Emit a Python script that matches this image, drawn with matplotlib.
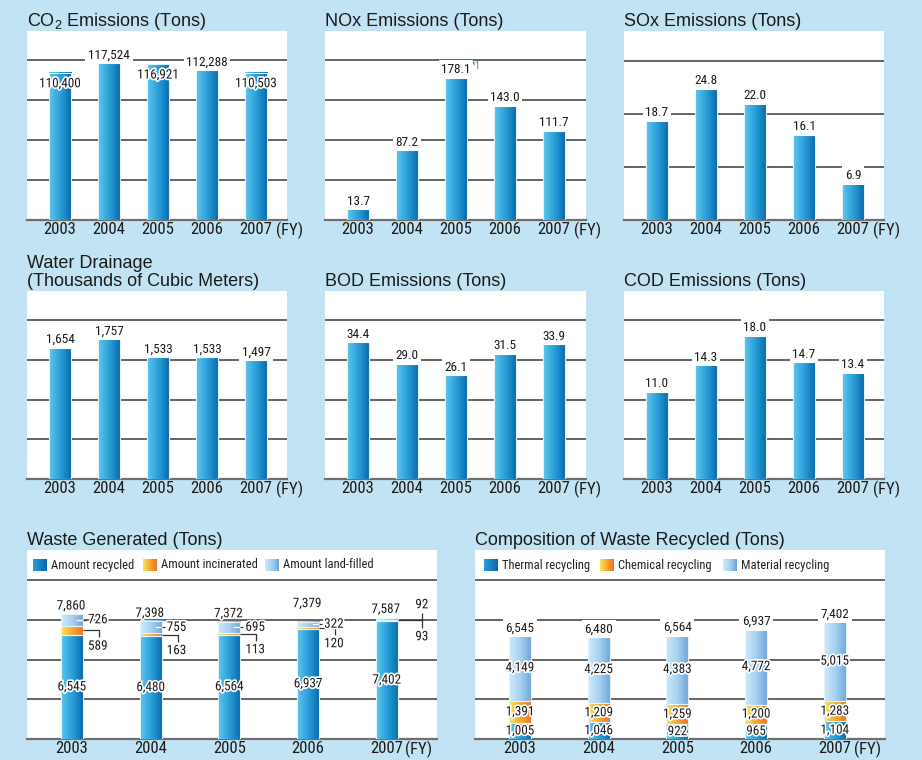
import os
import numpy as np
import matplotlib
matplotlib.use("Agg")
import matplotlib.pyplot as plt
from matplotlib import font_manager as fm
from matplotlib.colors import LinearSegmentedColormap
from matplotlib import patheffects as pe

years = ["2003", "2004", "2005", "2006", "2007"]

co2 = [110400, 117524, 116921, 112288, 110503]
nox = [13.7, 87.2, 178.1, 143.0, 111.7]
sox = [18.7, 24.8, 22.0, 16.1, 6.9]
water = [1654, 1757, 1533, 1533, 1497]
bod = [34.4, 29.0, 26.1, 31.5, 33.9]
cod = [11.0, 14.3, 18.0, 14.7, 13.4]

waste_recycled = [6545, 6480, 6564, 6937, 7402]
waste_incinerated = [589, 163, 113, 120, 93]
waste_landfilled = [726, 755, 695, 322, 92]

thermal = [1005, 1046, 922, 965, 1104]
chemical = [1391, 1209, 1259, 1200, 1283]
material = [4149, 4225, 4383, 4772, 5015]

W, H = 922, 760
BG = "#c2e3f3"
GRID = "#4a4a4a"
BLUE = ["#5cc6ef", "#2a9ed9", "#0866ab"]
ORANGE = ["#fbe55c", "#f5a833", "#ea731f"]
LIGHT = ["#cfeaf9", "#a6d1f0", "#6da4d8"]
TITLE_FONT = ["Liberation Sans", "DejaVu Sans"]

plt.rcParams["mathtext.fontset"] = "custom"
plt.rcParams["mathtext.rm"] = "Liberation Sans"
plt.rcParams["mathtext.default"] = "regular"


def find_narrow():
    # the labels use a condensed face; take whichever one is installed
    prefs = ["liberationsansnarrow-regular", "robotocondensed-regular",
             "notosans-condensed.", "opensans-condensed.", "opensans_condensed-regular",
             "dejavusanscondensed.", "notosans-semicondensed."]
    files = [f.fname for f in fm.fontManager.ttflist]
    for p in prefs:
        for fn in files:
            if p in os.path.basename(fn).lower():
                return fm.FontProperties(fname=fn), 1.0
    return fm.FontProperties(family="Liberation Sans"), 0.86


NARROW_FP, NARROW_SCALE = find_narrow()


def nf(size):
    p = NARROW_FP.copy()
    p.set_size(size * NARROW_SCALE)
    return p


GRAD = np.linspace(0, 1, 64).reshape(1, -1)
HALO = [pe.withStroke(linewidth=2.4, foreground="white")]

fig = plt.figure(figsize=(W / 100, H / 100), dpi=100, facecolor=BG)


def panel(left, top, right, bottom, title):
    ax = fig.add_axes([left / W, 1 - bottom / H, (right - left) / W, (bottom - top) / H])
    ax.set_facecolor("white")
    fig.text(left / W, 1 - (top - 5) / H, title, fontsize=13, family=TITLE_FONT,
             va="baseline", ha="left", color="#1a1a1a", linespacing=1.05)
    return ax


def grad_bars(ax, x, heights, bottoms, width, colors):
    bars = ax.bar(x, heights, width, bottom=bottoms, color="none",
                  edgecolor="#e4f3fb", linewidth=0.8, zorder=4)
    cmap = LinearSegmentedColormap.from_list("g", colors)
    for r in bars:
        x0, y0 = r.get_xy()
        w, h = r.get_width(), r.get_height()
        if h <= 0:
            continue
        ax.imshow(GRAD, cmap=cmap, extent=(x0, x0 + w, y0, y0 + h),
                  aspect="auto", zorder=3, interpolation="bilinear")
    return bars


def finish(ax, step, step_px, spacing_px, first_px, fy_dx=20):
    pos = ax.get_position()
    w_px, h_px = pos.width * W, pos.height * H
    top = step * h_px / step_px
    ax.set_ylim(0, top)
    ax.set_yticks(np.arange(step, top - step * 0.1, step))
    x0 = -first_px / spacing_px
    ax.set_xlim(x0, x0 + w_px / spacing_px)
    ax.set_xticks(range(len(years)), years)
    for lab in ax.get_xticklabels():
        lab.set_fontproperties(nf(12))
    ax.tick_params(axis="x", length=0, pad=1.5, colors="#1a1a1a")
    ax.tick_params(axis="y", length=0, labelleft=False)
    ax.grid(axis="y", color=GRID, linewidth=1.2)
    ax.set_axisbelow(True)
    for s in ("top", "right", "left"):
        ax.spines[s].set_visible(False)
    ax.spines["bottom"].set_color("#6e6e6e")
    ax.spines["bottom"].set_linewidth(1.6)
    ax.annotate("(FY)", xy=(len(years) - 1, 0), xycoords=("data", "axes fraction"),
                xytext=(fy_dx, -10), textcoords="offset pixels", ha="left",
                va="center", fontproperties=nf(12), color="#1a1a1a")


def value_label(ax, x, y, text, dy, halo=False):
    kw = dict(ha="center", va="center", fontproperties=nf(9.5),
              color="#1a1a1a", zorder=6, textcoords="offset pixels")
    if halo:
        kw["path_effects"] = HALO
    else:
        kw["bbox"] = dict(boxstyle="square,pad=0.2", fc="white", ec="none")
    return ax.annotate(text, (x, y), xytext=(0, dy), **kw)


def simple_panel(box, title, values, fmt, step, step_px, inside=()):
    ax = panel(*box, title)
    x = np.arange(len(years))
    grad_bars(ax, x, values, 0, 0.45, BLUE)
    for i, v in enumerate(values):
        if i in inside:
            value_label(ax, i, v, fmt.format(v), -11, halo=True)
        else:
            value_label(ax, i, v, fmt.format(v), 8)
    finish(ax, step, step_px, 49, 33)
    return ax


ROW1 = (31, 220)
ROW2 = (291, 479)
ROW3 = (550, 739)
COLS = [(27, 287), (325, 586), (624, 884)]

simple_panel((COLS[0][0], ROW1[0], COLS[0][1], ROW1[1]), r"CO$_2$ Emissions (Tons)",
             co2, "{:,}", 30000, 40, inside=(0, 2, 4))
ax_nox = simple_panel((COLS[1][0], ROW1[0], COLS[1][1], ROW1[1]), "NOx Emissions (Tons)",
                      nox, "{:.1f}", 50, 40)
i_max = int(np.argmax(nox))
ax_nox.annotate("*1", (i_max, nox[i_max]), xytext=(15, 12), textcoords="offset pixels",
                ha="left", va="center", fontproperties=nf(8), color="#3aa655")
simple_panel((COLS[2][0], ROW1[0], COLS[2][1], ROW1[1]), "SOx Emissions (Tons)",
             sox, "{:.1f}", 10, 53)

simple_panel((COLS[0][0], ROW2[0], COLS[0][1], ROW2[1]),
             "Water Drainage\n(Thousands of Cubic Meters)", water, "{:,}", 500, 39.75)
simple_panel((COLS[1][0], ROW2[0], COLS[1][1], ROW2[1]), "BOD Emissions (Tons)",
             bod, "{:.1f}", 10, 39.75)
simple_panel((COLS[2][0], ROW2[0], COLS[2][1], ROW2[1]), "COD Emissions (Tons)",
             cod, "{:.1f}", 5, 39.75)


def legend(ax, items, xs_px, h_px, w_px):
    for (label, colors), xl in zip(items, xs_px):
        cmap = LinearSegmentedColormap.from_list("g", colors)
        y0 = 1 - 21 / h_px
        y1 = 1 - 9 / h_px
        ax.imshow(GRAD, cmap=cmap, extent=(xl / w_px, (xl + 14) / w_px, y0, y1),
                  transform=ax.transAxes, aspect="auto", zorder=6, clip_on=False)
        ax.text((xl + 18) / w_px, (y0 + y1) / 2, label, transform=ax.transAxes,
                ha="left", va="center", fontproperties=nf(9), color="#222222")


# Waste generated
ax = panel(27, ROW3[0], 437, ROW3[1], "Waste Generated (Tons)")
x = np.arange(len(years))
bw = 0.28
rec = np.array(waste_recycled)
inc = np.array(waste_incinerated)
land = np.array(waste_landfilled)
total = rec + inc + land
grad_bars(ax, x, rec, 0, bw, BLUE)
grad_bars(ax, x, inc, rec, bw, ORANGE)
grad_bars(ax, x, land, rec + inc, bw, LIGHT)
tpp = 2500 / 39.75  # tons per pixel
upp = 1 / 78.7      # x units per pixel
total_dy = [8, 8, 8, 18, 9]
line_kw = dict(color="#333333", linewidth=0.9, zorder=5, solid_capstyle="butt")
txt_kw = dict(textcoords="offset pixels", fontproperties=nf(9.5), color="#1a1a1a", zorder=6)
for i in x:
    value_label(ax, i, rec[i] / 2, f"{rec[i]:,}", 0, halo=True)
    value_label(ax, i - 1 * upp, total[i], f"{total[i]:,}", total_dy[i], halo=True)
    xr = i + bw / 2
    if land[i] > 200:
        lm = rec[i] + inc[i] + land[i] / 2
        ax.plot([i + 5 * upp, xr], [lm, lm], color="white", linewidth=0.9, zorder=5)
        ax.plot([xr, xr + 3 * upp], [lm, lm], **line_kw)
        ax.annotate(f"{land[i]:,}", (xr, lm), xytext=(5, 0), ha="left", va="center",
                    path_effects=HALO, **txt_kw)
        im = rec[i] + inc[i] / 2
        ax.plot([xr, xr + 16 * upp, xr + 16 * upp], [im, im, im - 7 * tpp], **line_kw)
        ax.annotate(f"{inc[i]:,}", (xr, im), xytext=(5, -16), ha="left", va="center",
                    path_effects=HALO, **txt_kw)
    else:
        yb = rec[i] + inc[i]
        xe = xr + 24 * upp
        ax.plot([xr, xe], [yb, yb], **line_kw)
        ax.plot([xe, xe], [yb + 7 * tpp, yb - 8 * tpp], **line_kw)
        ax.annotate(f"{land[i]:,}", (xe, yb), xytext=(0, 15), ha="center", va="center",
                    path_effects=HALO, **txt_kw)
        ax.annotate(f"{inc[i]:,}", (xe, yb), xytext=(0, -17), ha="center", va="center",
                    path_effects=HALO, **txt_kw)
finish(ax, 2500, 39.75, 78.7, 45, fy_dx=18)
legend(ax, [("Amount recycled", ["#2a9ed9", "#0866ab"]),
            ("Amount incinerated", ORANGE),
            ("Amount land-filled", LIGHT)], [6, 116, 238], 189, 410)

# Composition of waste recycled
ax = panel(475, ROW3[0], 885, ROW3[1], "Composition of Waste Recycled (Tons)")
th = np.array(thermal)
ch = np.array(chemical)
ma = np.array(material)
grad_bars(ax, x, th, 0, bw, BLUE)
grad_bars(ax, x, ch, th, bw, ORANGE)
grad_bars(ax, x, ma, th + ch, bw, LIGHT)
for i in x:
    value_label(ax, i, th[i] / 2, f"{th[i]:,}", 0, halo=True)
    value_label(ax, i, th[i] + ch[i] / 2, f"{ch[i]:,}", 0, halo=True)
    value_label(ax, i, th[i] + ch[i] + ma[i] / 2, f"{ma[i]:,}", 0, halo=True)
    value_label(ax, i, th[i] + ch[i] + ma[i], f"{th[i] + ch[i] + ma[i]:,}", 7)
finish(ax, 2500, 39.75, 78.7, 45, fy_dx=19)
legend(ax, [("Thermal recycling", ["#2a9ed9", "#0866ab"]),
            ("Chemical recycling", ORANGE),
            ("Material recycling", LIGHT)], [9, 125, 248], 189, 410)

fig.savefig("out.png", dpi=100, facecolor=BG)
